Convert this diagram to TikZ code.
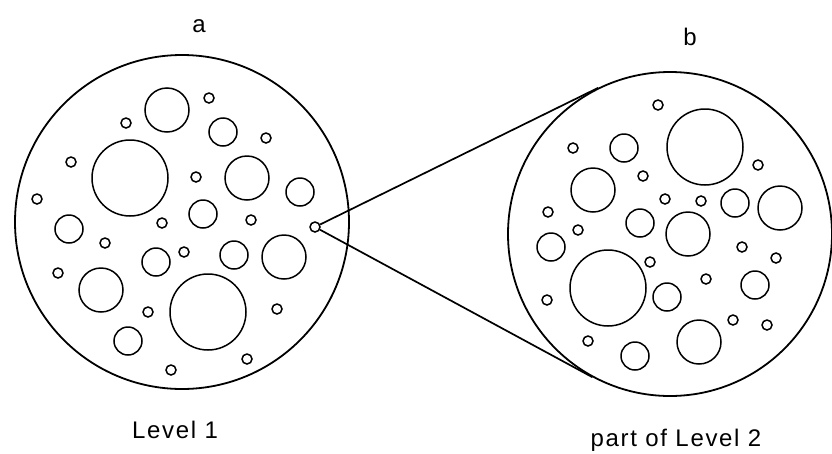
\documentclass[tikz,border=0pt]{standalone}
\usepackage{fontspec}
\setmainfont{Liberation Sans}[LetterSpace=7]
\usetikzlibrary{calc}
\begin{document}
\begin{tikzpicture}[
  x=1pt, y=-1pt,
  disc/.style={draw, circle, line width=1.8pt, inner sep=0pt},
  hole/.style={line width=1.5pt},
  link/.style={line width=1.7pt},
  lbl/.style={font=\fontsize{24}{28}\selectfont, anchor=base},
]
\useasboundingbox (0,0) rectangle (832,453);

% --- (a) Level 1 ---
\node[lbl] (lbla) at (199,32) {a};
\node[disc, minimum size=334pt] (lvlone) at (182,222) {};
\foreach \x/\y/\r in {167/110/22, 209/98/5, 126/123/5, 223/132/14, 266/138/5,
    130/178/38, 71/162/5, 196/177/5, 247/178/22, 300/192/14, 37/199/5,
    203/214/14, 162/223/5, 251/220/5, 69/229/14, 105/243/5, 184/252/5,
    156/262/14, 234/255/14, 284/257/22, 58/273/5, 101/290/22, 208/312/38,
    148/312/5, 277/309/5, 128/341/14, 247/359/5, 171/370/5}
  \draw[hole] (\x,\y) circle (\r);
\node[disc, line width=1.5pt, minimum size=10pt] (spot) at (315,227) {};
\node[lbl] (lblone) at (175,438) {Level 1};

% --- (b) part of Level 2 ---
\node[lbl] (lblb) at (690,45) {b};
\node[disc, minimum size=324pt] (lvltwo) at (670,234) {};
\foreach \x/\y/\r in {658/105/5, 705/147/38, 573/148/5, 624/148/14, 758/165/5,
    643/176/5, 593/190/22, 665/199/5, 701/201/5, 735/203/14, 780/208/22,
    548/212/5, 578/230/5, 640/223/14, 688/234/22, 551/247/14, 742/247/5,
    776/258/5, 650/262/5, 608/288/38, 706/279/5, 755/285/14, 667/297/14,
    547/300/5, 733/320/5, 767/325/5, 699/342/22, 588/341/5, 635/356/14}
  \draw[hole] (\x,\y) circle (\r);
\node[lbl] (lbltwo) at (676,446) {part of Level 2};

% zoom lines: tangents from the spot to level 2
\coordinate (tup) at (tangent cs:node=lvltwo, point={(spot.center)}, solution=1);
\coordinate (tdn) at (tangent cs:node=lvltwo, point={(spot.center)}, solution=2);
\draw[link] (spot) -- (tup);
\draw[link] (spot) -- (tdn);
\end{tikzpicture}
\end{document}
